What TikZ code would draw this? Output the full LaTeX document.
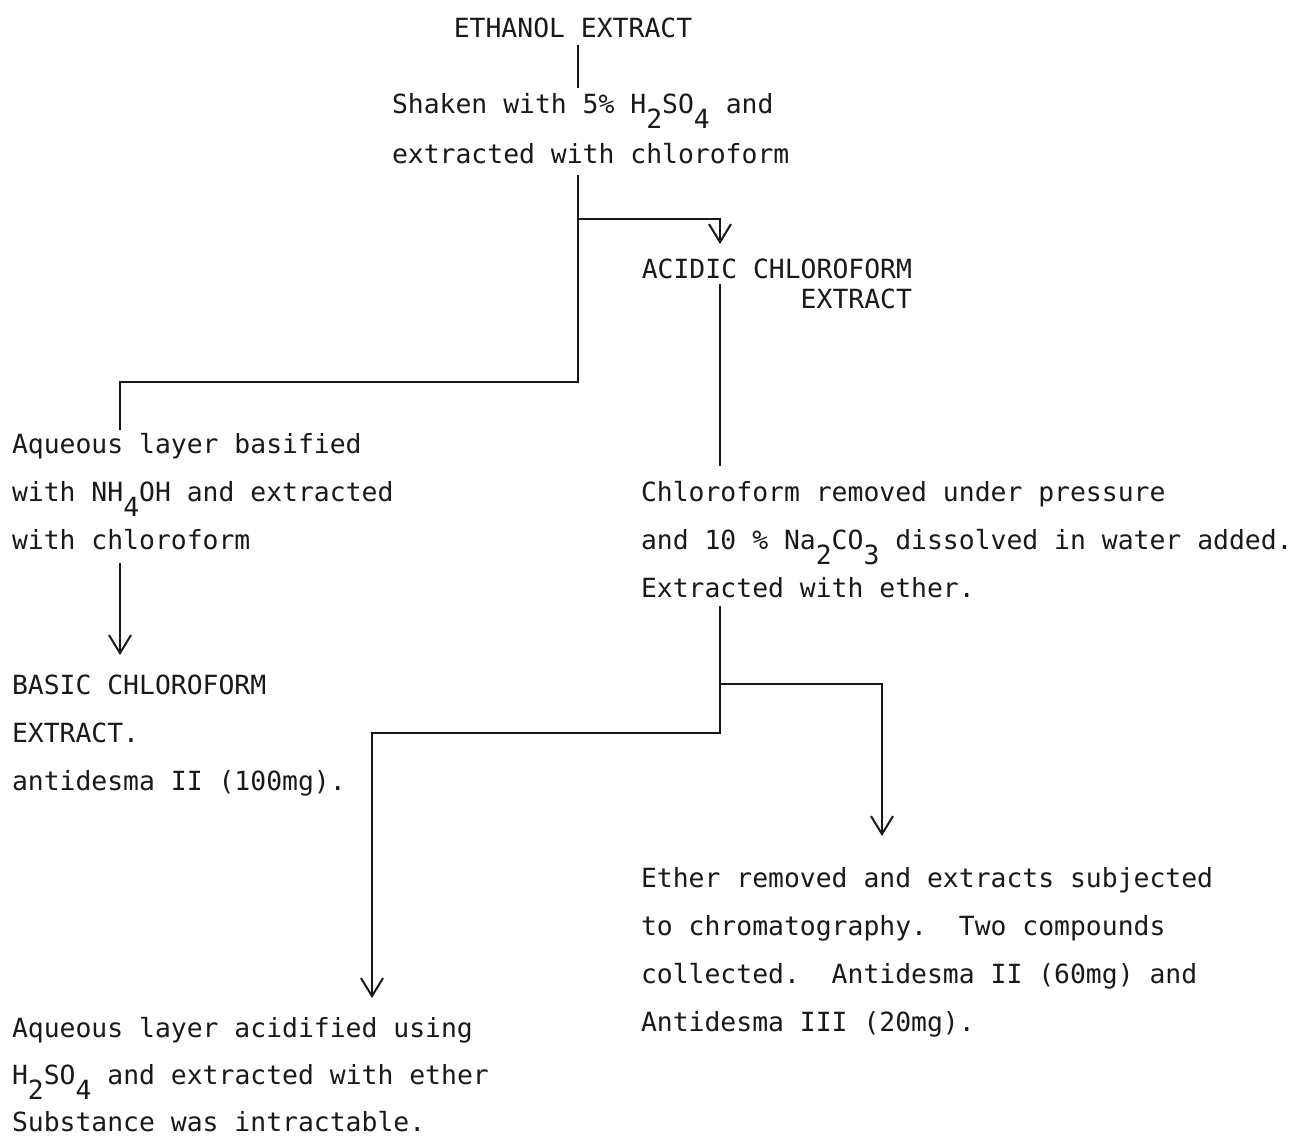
\documentclass[tikz,border=0pt]{standalone}
\usepackage{fontspec}
\setmonofont{DejaVu Sans Mono}
\usepackage{tikz}
\usetikzlibrary{arrows.meta, calc}
\definecolor{inkblack}{RGB}{25,25,25}
\newcommand{\typed}{\ttfamily\frenchspacing\fontsize{13.2pt}{24pt}\selectfont}
\newcommand{\lowsub}[1]{\raisebox{-7.5pt}{#1}}

\begin{document}
\begin{tikzpicture}[x=0.5pt, y=-0.5pt,
  stage/.style={font=\typed, text=inkblack, inner sep=0pt, outer sep=0pt, align=left, anchor=north west},
  link/.style={draw=inkblack, line width=1.1pt},
  flow/.style={link, -{Straight Barb[length=9pt, width=11pt, line width=1pt]}}]
\useasboundingbox (0,0) rectangle (1298,1136);

% Extracts and steps
\node[stage, anchor=base] (ethanol) at (573,37) {ETHANOL EXTRACT};
\node[stage, font=\typed\fontsize{13.2pt}{25pt}\selectfont] (shaken) at (392,93)
  {Shaken with 5\% H\lowsub{2}SO\lowsub{4} and\\extracted with chloroform};
\node[stage, align=right, anchor=north east, font=\typed\fontsize{13.2pt}{15pt}\selectfont] (acidic) at (912,259)
  {ACIDIC CHLOROFORM\\EXTRACT};
\node[stage] (basified) at (12,433)
  {Aqueous layer basified\\with NH\lowsub{4}OH and extracted\\with chloroform};
\node[stage] (removed) at (641,481)
  {Chloroform removed under pressure\\and 10 \% Na\lowsub{2}CO\lowsub{3} dissolved in water added.\\Extracted with ether.};
\node[stage] (basic) at (12,675)
  {BASIC CHLOROFORM\\EXTRACT.\\antidesma II (100mg).};
\node[stage] (ether) at (641,867)
  {Ether removed and extracts subjected\\to chromatography.\ \ Two compounds\\collected.\ \ Antidesma II (60mg) and\\Antidesma III (20mg).};
\node[stage, font=\typed\fontsize{13.2pt}{23.5pt}\selectfont] (acidified) at (12,1017)
  {Aqueous layer acidified using\\H\lowsub{2}SO\lowsub{4} and extracted with ether\\Substance was intractable.};

% Junctions
\coordinate (split1) at (578,219);
\coordinate (bend1) at (578,382);
\coordinate (bend2) at (120,382);
\coordinate (split2) at (720,684);
\coordinate (bend3) at (720,733);
\coordinate (bend4) at (372,733);
\coordinate (bend5) at (882,684);

% Connectors
\draw[link, shorten <=4pt, shorten >=2.5pt] (ethanol.south -| split1) -- (shaken.north -| split1);
\draw[link, shorten <=6pt, shorten >=1.5pt] (shaken.south -| split1) -- (bend1) -- (bend2) -- (basified.north -| bend2);
\draw[flow, shorten >=7.5pt] (split1) -| (acidic.north -| split2);
\draw[link, shorten >=7.5pt] ([yshift=-12.5pt]acidic.north -| split2) -- (removed.north -| split2);
\draw[flow, shorten <=6.5pt, shorten >=10pt] (basified.south -| bend2) -- (basic.north -| bend2);
\draw[flow, shorten <=4pt, shorten >=9.5pt] (removed.south -| split2) -- (bend3) -- (bend4) -- (acidified.north -| bend4);
\draw[flow, shorten >=15.5pt] (split2) -- (bend5) -- (ether.north -| bend5);
\end{tikzpicture}
\end{document}
